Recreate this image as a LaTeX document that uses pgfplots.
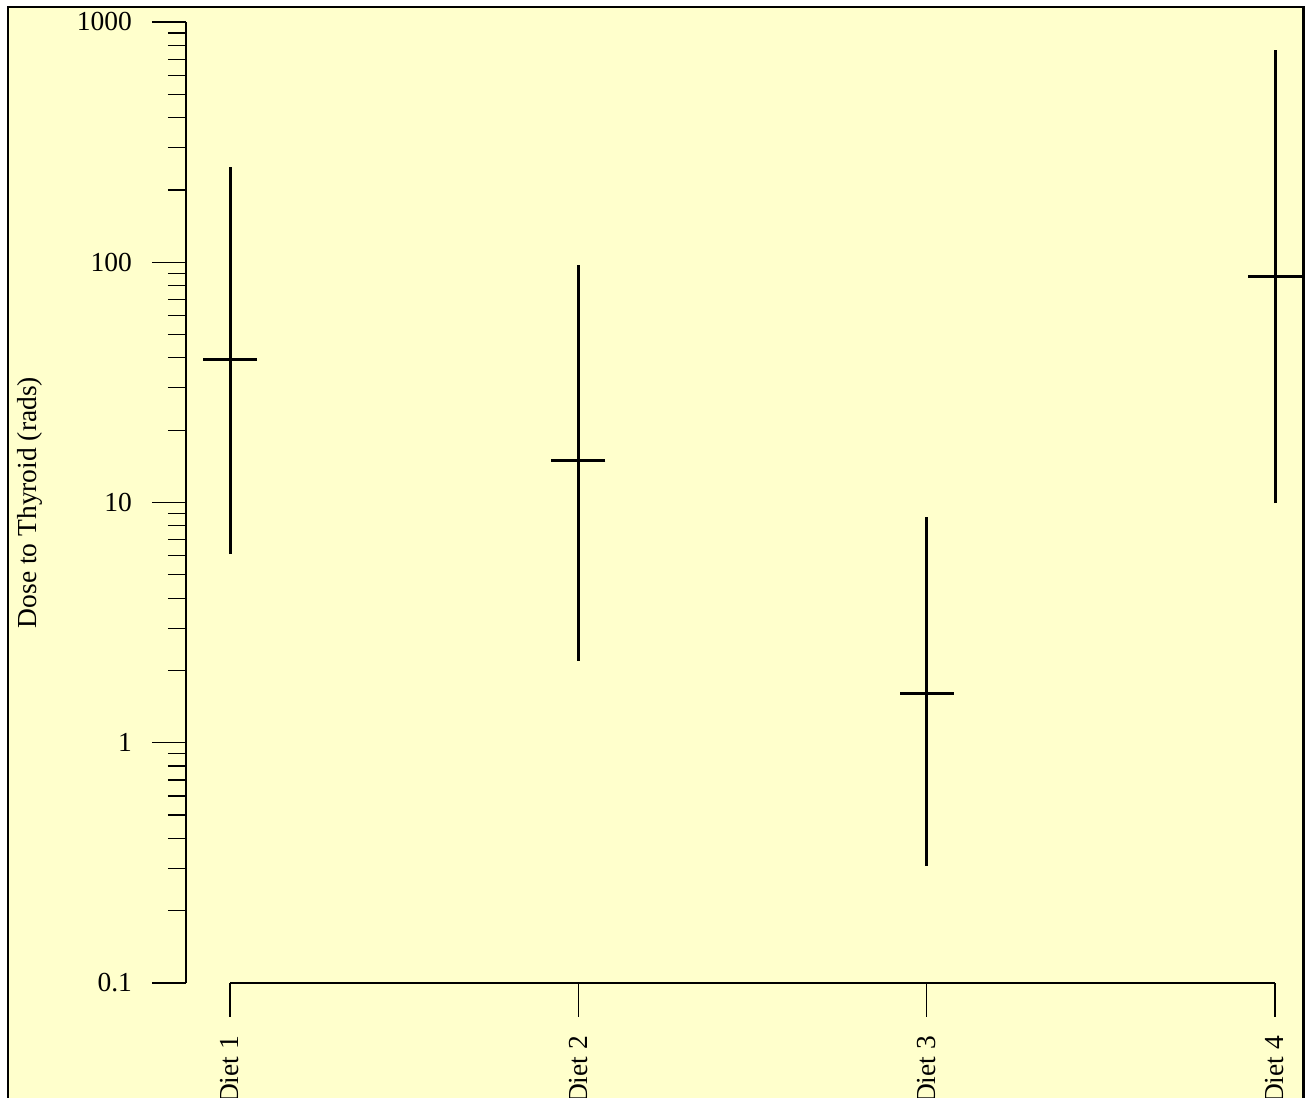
\documentclass[border=0pt]{standalone}
\usepackage{pgfplots}
\pgfplotsset{compat=1.18}
\usepackage{fontspec}
\setmainfont{Liberation Serif}
\definecolor{bgyellow}{HTML}{FFFFCC}
\begin{document}
\begin{tikzpicture}
\useasboundingbox (0,0) rectangle (652.5pt,548.5pt);
\clip (0,0) rectangle (652.5pt,548.5pt);
\begin{pgfinterruptboundingbox}
\fill[white] (0,0) rectangle (652.5pt,548.5pt);
\draw[line width=1.25pt, fill=bgyellow] (4pt,-20pt) rectangle (651.75pt,545pt);
\begin{axis}[
  at={(93pt,57pt)}, anchor=south west,
  scale only axis, width=558pt, height=480.5pt,
  xmin=0.87368, xmax=4.0775,
  ymode=log, ymin=0.1, ymax=1000,
  clip=false,
  axis line style={draw=none},
  tick pos=left, tick align=outside,
  xtick={1,2,3,4}, xticklabels={Diet 1,Diet 2,Diet 3,Diet 4},
  ytick={0.1,1,10,100,1000}, yticklabels={0.1,1,10,100,1000},
  minor ytick={0.2,0.3,0.4,0.5,0.6,0.7,0.8,0.9,2,3,4,5,6,7,8,9,20,30,40,50,60,70,80,90,200,300,400,500,600,700,800,900},
  major tick length=17pt, minor tick length=9pt,
  every tick/.style={black, line width=0.6pt},
  tick label style={font=\fontsize{13.75}{16}\selectfont},
  xticklabel style={yshift=-6pt, rotate=90, anchor=east},
  yticklabel style={anchor=east, xshift=-6.5pt},
  ylabel={Dose to Thyroid (rads)},
  label style={font=\fontsize{13.75}{16}\selectfont},
  ylabel style={at={(axis description cs:-0.1398,0.5)}, anchor=center, rotate=0},
]
\addplot[black, line width=1.5pt] coordinates {(1,6.1) (1,249)};
\addplot[black, line width=1.5pt] coordinates {(2,2.19) (2,97.5)};
\addplot[black, line width=1.5pt] coordinates {(3,0.307) (3,8.7)};
\addplot[black, line width=1.5pt] coordinates {(4,9.95) (4,764)};
\addplot[black, only marks, mark=-, mark size=13.5pt, mark options={line width=1.5pt}] coordinates {(1,39.2) (2,14.9) (3,1.60) (4,87.6)};
\draw[line width=0.6pt] (axis cs:1,0.1) -- (axis cs:4,0.1);
\draw[line width=0.6pt] (rel axis cs:0,0) -- (rel axis cs:0,1);
\end{axis}
\end{pgfinterruptboundingbox}
\end{tikzpicture}
\end{document}
